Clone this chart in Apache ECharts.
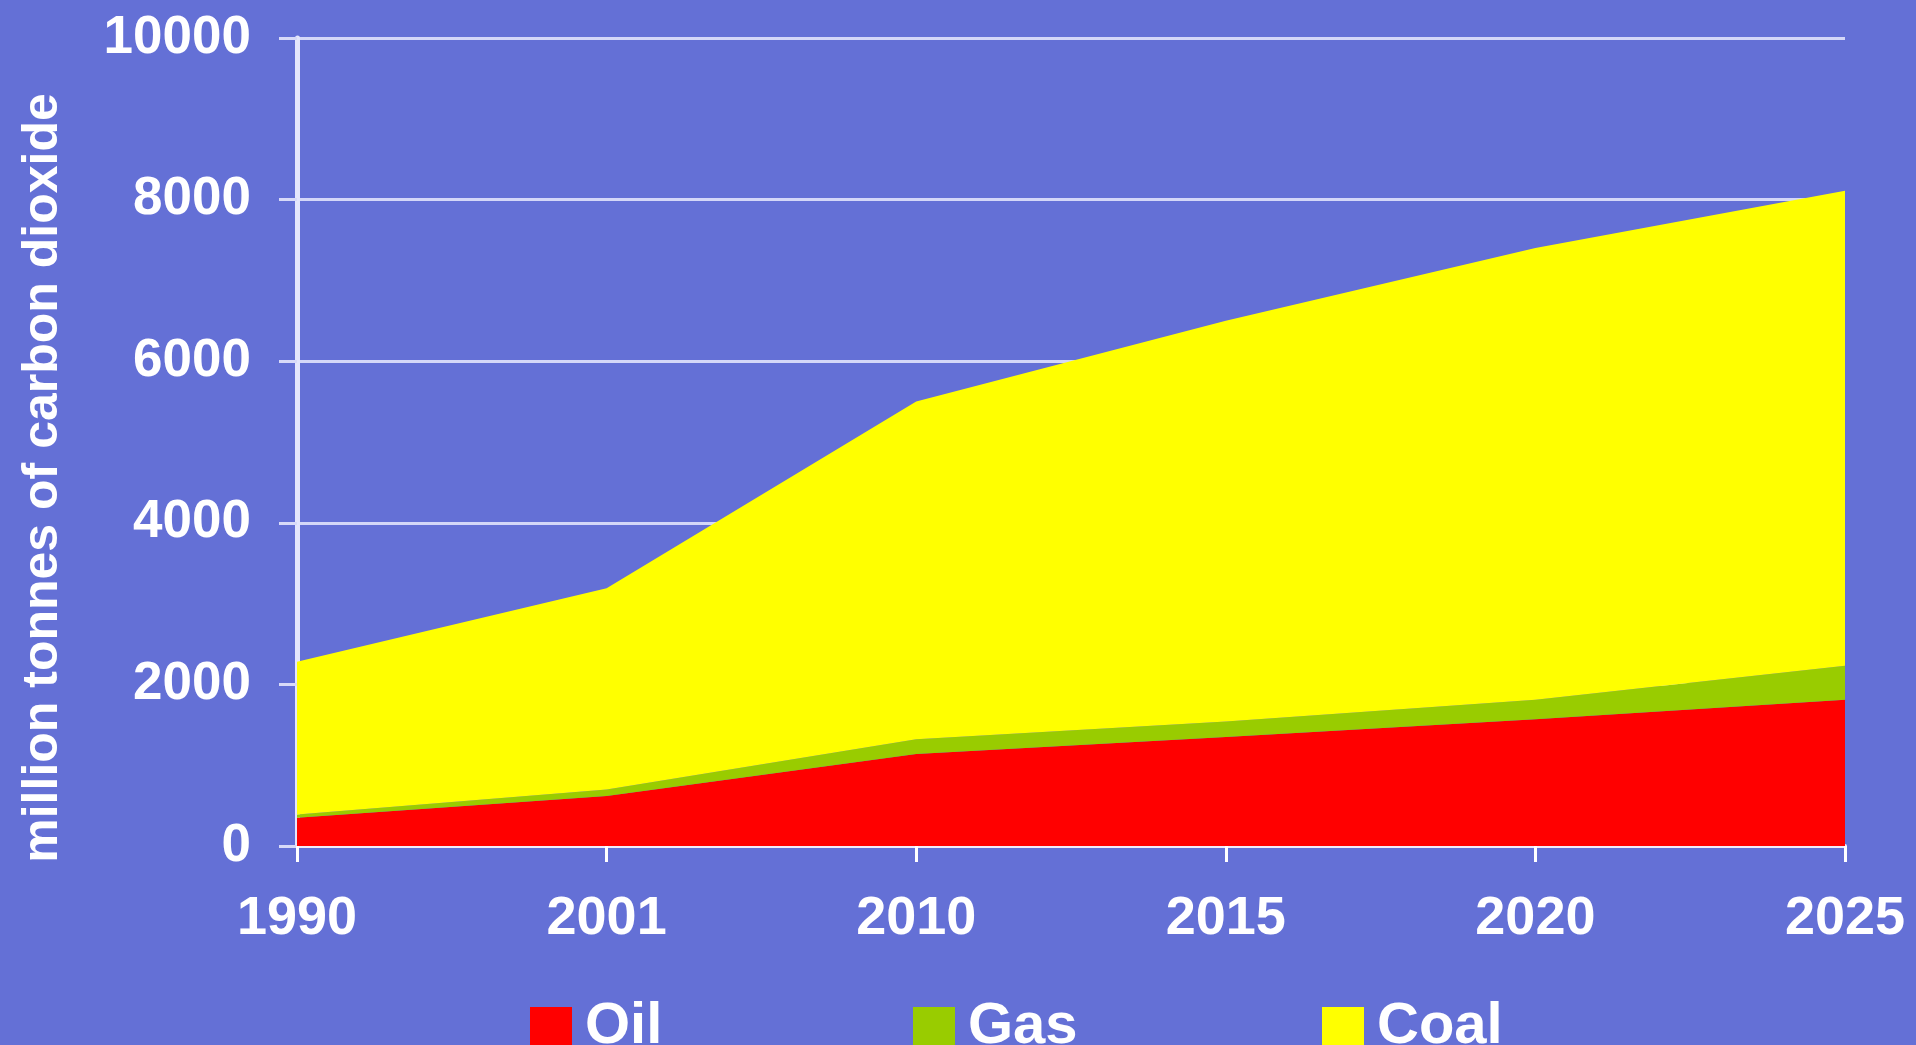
<!DOCTYPE html>
<html>
<head>
<meta charset="utf-8">
<script src="https://cdn.jsdelivr.net/npm/echarts@6/dist/echarts.min.js"></script>
<style>
html,body{margin:0;padding:0;background:#6470D6;}
#chart{width:1916px;height:1045px;}
</style>
</head>
<body>
<div id="chart"></div>
<script>
var years = ['1990', '2001', '2010', '2015', '2020', '2025'];
var oil  = [350, 620, 1140, 1350, 1570, 1810];
var gas  = [40, 80, 180, 190, 240, 420];
var coal = [1890, 2490, 4180, 4960, 5590, 5880];
var yTicks = [0, 2000, 4000, 6000, 8000, 10000];
var seriesNames = ['Oil', 'Gas', 'Coal'];
var yAxisTitle = 'million tonnes of carbon dioxide';

var FONT = '"Liberation Sans", Arial, sans-serif';
var chart = echarts.init(document.getElementById('chart'), null, {renderer: 'canvas'});

function areaSeries(name, data, color) {
  return {
    name: name,
    type: 'line',
    stack: 'total',
    data: data,
    symbol: 'none',
    lineStyle: {width: 0},
    areaStyle: {color: color, opacity: 1},
    itemStyle: {color: color},
    emphasis: {disabled: true}
  };
}

function legendAt(name, left) {
  return {
    data: [name],
    left: left,
    top: 998,
    orient: 'horizontal',
    icon: 'rect',
    itemWidth: 42,
    itemHeight: 40,
    padding: 0,
    selectedMode: false,
    textStyle: {color: '#ffffff', fontSize: 58, fontWeight: 'bold', fontFamily: FONT, padding: [0, 0, 0, 8]}
  };
}

chart.setOption({
  backgroundColor: '#6470D6',
  animation: false,
  grid: {left: 297, right: 71, top: 38, bottom: 199, containLabel: false},
  legend: [legendAt(seriesNames[0], 530), legendAt(seriesNames[1], 913), legendAt(seriesNames[2], 1322)],
  xAxis: {
    type: 'category',
    data: years,
    boundaryGap: false,
    axisLine: {lineStyle: {color: '#F2ECFA', width: 4}},
    axisTick: {show: true, length: 16, lineStyle: {color: '#ffffff', width: 3}},
    axisLabel: {color: '#ffffff', fontSize: 54, fontWeight: 'bold', fontFamily: FONT, margin: 46},
    splitLine: {show: false}
  },
  yAxis: {
    type: 'value',
    min: yTicks[0],
    max: yTicks[yTicks.length - 1],
    interval: yTicks[1] - yTicks[0],
    axisLine: {show: true, lineStyle: {color: '#E4E6FC', width: 5}},
    axisTick: {show: true, length: 18, lineStyle: {color: '#D8DAF8', width: 3}},
    axisLabel: {
      color: '#ffffff', fontSize: 53, fontWeight: 'bold', fontFamily: FONT, margin: 46,
      formatter: function (v) { return String(v); }
    },
    splitLine: {show: true, lineStyle: {color: '#D4D7F8', width: 3}}
  },
  graphic: [{
    type: 'text',
    x: 43,
    y: 478,
    rotation: Math.PI / 2,
    style: {
      text: yAxisTitle,
      fill: '#ffffff',
      font: 'bold 50px ' + FONT,
      textAlign: 'center',
      textVerticalAlign: 'middle'
    }
  }],
  series: [
    areaSeries(seriesNames[0], oil, '#FF0000'),
    areaSeries(seriesNames[1], gas, '#99CC00'),
    areaSeries(seriesNames[2], coal, '#FFFF00')
  ]
});
</script>
</body>
</html>
